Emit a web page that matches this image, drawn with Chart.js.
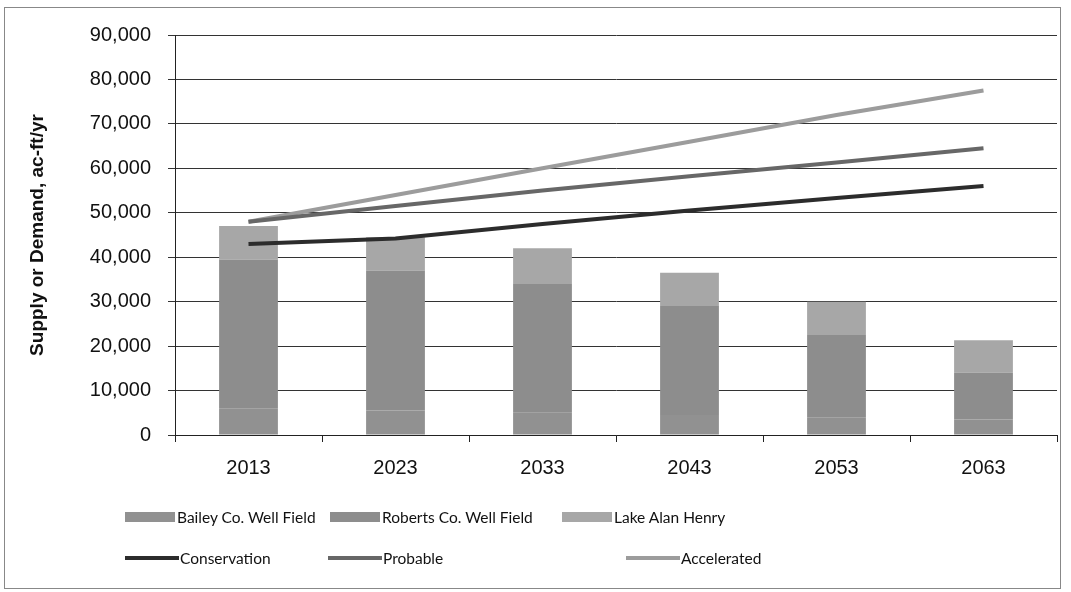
<!DOCTYPE html>
<html>
<head>
<meta charset="utf-8">
<script src="https://cdn.jsdelivr.net/npm/chart.js@4.4.1/dist/chart.umd.min.js"></script>
<style>
  body { margin: 0; background: #fff; }
  #frame { position: absolute; left: 4px; top: 7px; width: 1057px; height: 582px; border: 1px solid #888; box-sizing: border-box; }
  #wrap { position: absolute; left: 0; top: 6px; width: 1071px; height: 492px; }
  #legend { position: absolute; left: 0; top: 0; width: 1071px; height: 592px; pointer-events: none;
            font-family: "Lato", "Open Sans", sans-serif; font-size: 15.5px; color: #111; }
  .item { position: absolute; display: flex; align-items: center; white-space: nowrap; }
  .sw { display: inline-block; margin-right: 2px; }
</style>
</head>
<body>
<div id="frame"></div>
<div id="wrap"><canvas id="grafico"></canvas></div>
<div id="legend"></div>
<script>
// dados (ac-ft/yr)
const anos = ['2013', '2023', '2033', '2043', '2053', '2063'];

const baileyCo = [6000, 5500, 5000, 4500, 4000, 3500];
const robertsCo = [33500, 31500, 29000, 24500, 18500, 10500];
const lakeAlanHenry = [7500, 7500, 8000, 7500, 7500, 7300];

const conservation = [43000, 44200, 47500, 50500, 53300, 56000];
const probable = [48000, 51500, 55000, 58200, 61300, 64500];
const accelerated = [48000, 54000, 60000, 66000, 72000, 77500];

const yMax = 90000;
const yStep = 10000;

const barras = [
  { label: 'Bailey Co. Well Field', data: baileyCo, color: '#919191' },
  { label: 'Roberts Co. Well Field', data: robertsCo, color: '#8d8d8d' },
  { label: 'Lake Alan Henry', data: lakeAlanHenry, color: '#a7a7a7' }
];
const linhas = [
  { label: 'Conservation', data: conservation, color: '#2c2c2c' },
  { label: 'Probable', data: probable, color: '#676767' },
  { label: 'Accelerated', data: accelerated, color: '#9c9c9c' }
];

const datasets = [];
linhas.forEach((l, i) => {
  datasets.push({
    type: 'line', label: l.label, data: l.data,
    borderColor: l.color, backgroundColor: l.color,
    borderWidth: 4, pointRadius: 0, tension: 0, order: 0,
    stack: 'linha' + i // cada linha na sua própria pilha, para não somar
  });
});
barras.forEach(b => {
  datasets.push({
    type: 'bar', label: b.label, data: b.data,
    backgroundColor: b.color, borderWidth: 0,
    stack: 'oferta', categoryPercentage: 1, barPercentage: 0.4, order: 1
  });
});

const fonteEixo = { family: 'Liberation Sans, Arial', size: 20 };

new Chart(document.getElementById('grafico').getContext('2d'), {
  data: { labels: anos, datasets: datasets },
  options: {
    responsive: true,
    maintainAspectRatio: false,
    animation: false,
    layout: { padding: { top: 24, right: 14, bottom: 4, left: 26 } },
    plugins: { legend: { display: false }, tooltip: { enabled: false } },
    scales: {
      x: {
        stacked: true,
        offset: true,
        grid: { offset: true, drawOnChartArea: false, color: '#222', tickLength: 7 },
        border: { color: '#222', width: 1 },
        ticks: { color: '#111', font: fonteEixo, padding: 14 }
      },
      y: {
        stacked: true,
        min: 0, max: yMax,
        afterFit: function(scale) { scale.width = 149; },
        ticks: {
          stepSize: yStep, color: '#111', padding: 17,
          font: fonteEixo,
          callback: v => v.toLocaleString('en-US')
        },
        grid: { color: '#333', lineWidth: 1, tickLength: 7 },
        border: { color: '#222', width: 1 },
        title: {
          display: true, text: 'Supply or Demand, ac-ft/yr', color: '#111',
          font: { family: 'Liberation Sans, Arial', size: 19, weight: 'bold' }, padding: { top: 0, bottom: 0 }
        }
      }
    }
  }
});

// legenda em duas linhas, como no original
const legend = document.getElementById('legend');
const posicoes = [
  { x: 125, y: 517 }, { x: 330, y: 517 }, { x: 562, y: 517 },
  { x: 125, y: 558 }, { x: 328, y: 558 }, { x: 626, y: 558 }
];
const itens = barras.map(b => ({ ...b, tipo: 'bar' })).concat(linhas.map(l => ({ ...l, tipo: 'line' })));
itens.forEach((it, i) => {
  const d = document.createElement('div');
  d.className = 'item';
  d.style.left = posicoes[i].x + 'px';
  d.style.top = (posicoes[i].y - 11) + 'px';
  d.style.height = '22px';
  const sw = document.createElement('span');
  sw.className = 'sw';
  sw.style.background = it.color;
  if (it.tipo === 'bar') { sw.style.width = '50px'; sw.style.height = '10px'; }
  else { sw.style.width = '54px'; sw.style.height = '4px'; sw.style.marginRight = '1px'; }
  d.appendChild(sw);
  const t = document.createElement('span');
  t.textContent = it.label;
  d.appendChild(t);
  legend.appendChild(d);
});
</script>
</body>
</html>
